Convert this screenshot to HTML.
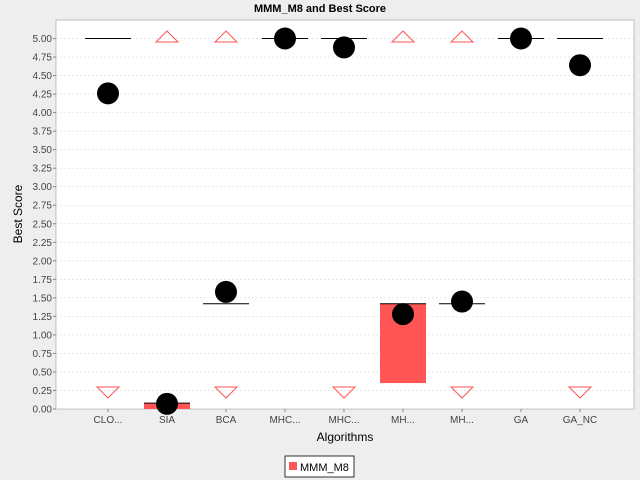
<!DOCTYPE html>
<html><head><meta charset="utf-8"><style>
html,body{margin:0;padding:0;background:#eeeeee;font-family:"Liberation Sans",sans-serif;overflow:hidden;}
svg{display:block;}
svg text{font-family:"Liberation Sans",sans-serif;}
</style></head><body>
<svg id="chart" width="640" height="480" xmlns="http://www.w3.org/2000/svg">
<rect x="0" y="0" width="640" height="480" fill="#eeeeee"/>
<text x="320" y="12" text-anchor="middle" font-size="11" font-weight="bold" fill="#000">MMM_M8 and Best Score</text>
<rect x="56" y="20" width="578" height="389" fill="#ffffff" stroke="#888" stroke-width="0.5"/>
<g id="grid"></g><g id="yaxis"></g><g id="xaxis"></g><g id="marks"></g>
<text transform="translate(22,214) rotate(-90)" text-anchor="middle" font-size="12" fill="#000">Best Score</text>
<text x="345" y="441" text-anchor="middle" font-size="12" fill="#000">Algorithms</text>
<g>
<rect x="285" y="456" width="69" height="21" fill="#fff" stroke="#000" stroke-width="0.8"/>
<rect x="289" y="462" width="8" height="8" fill="#ff5555"/>
<text x="300" y="471" font-size="11" fill="#000">MMM_M8</text>
</g>
</svg>
<script>
const categories=["CLO...","SIA","BCA","MHC...","MHC...","MH...","MH...","GA","GA_NC"];
const q1Values=[5.0,0.0,1.42,5.0,5.0,0.35,1.42,5.0,5.0];
const q3Values=[5.0,0.08,1.42,5.0,5.0,1.42,1.42,5.0,5.0];
const medianValues=[5.0,0.08,1.42,5.0,5.0,1.42,1.42,5.0,5.0];
const meanValues=[4.26,0.07,1.58,5.0,4.88,1.28,1.45,5.0,4.64];
const hasUpArrow=[false,true,true,false,false,true,true,false,false];
const hasDownArrow=[true,false,true,false,true,false,true,false,true];
const yTicks=[0,0.25,0.5,0.75,1,1.25,1.5,1.75,2,2.25,2.5,2.75,3,3.25,3.5,3.75,4,4.25,4.5,4.75,5];
const NS="http://www.w3.org/2000/svg";
const yMin=0,yMax=5.25,plotTop=20,plotBottom=409;
function y(v){return plotBottom-(v-yMin)/(yMax-yMin)*(plotBottom-plotTop);}
function x(i){return 108+i*59;}
function mk(tag,attrs,parent){const e=document.createElementNS(NS,tag);for(const k in attrs)e.setAttribute(k,attrs[k]);parent.appendChild(e);return e;}
const grid=document.getElementById('grid'),ya=document.getElementById('yaxis'),xa=document.getElementById('xaxis'),marks=document.getElementById('marks');
yTicks.forEach(t=>{
 const g=mk('line',{x1:56,x2:634,y1:y(t),y2:y(t),stroke:'#d8d8d8','stroke-width':0.6,'stroke-dasharray':'2,2'},grid);
 
 
 const tm=mk('line',{x1:53,x2:56,y1:y(t),y2:y(t),stroke:'#888'},ya);
 
 
 const tx=mk('text',{x:52,y:y(t)+3.5,'text-anchor':'end','font-size':10,fill:'#444'},ya);
 tx.textContent=t.toFixed(2);
 
 
});
categories.forEach((c,i)=>{
 const cx=x(i);
 const tx=mk('text',{x:cx,y:423,'text-anchor':'middle','font-size':10,fill:'#444'},xa);
 tx.textContent=c;
 
 
 const tm=mk('line',{x1:cx,x2:cx,y1:409,y2:412,stroke:'#888'},xa);
 
 
 const h=y(q1Values[i])-y(q3Values[i]);
 if(h>0.5){
  const b=mk('rect',{x:cx-23,y:y(q3Values[i]),width:46,height:h,fill:'#ff5555'},marks);
  
  
 }
 const m=mk('line',{x1:cx-23,x2:cx+23,y1:y(medianValues[i]),y2:y(medianValues[i]),stroke:'#000','stroke-width':1},marks);
 
 
 if(hasUpArrow[i]){
  const a=mk('polygon',{points:`${cx-11},${42} ${cx+11},${42} ${cx},${31}`,fill:'none',stroke:'#ff5555'},marks);
  
  
 }
 if(hasDownArrow[i]){
  const a=mk('polygon',{points:`${cx-11},${387} ${cx+11},${387} ${cx},${398}`,fill:'none',stroke:'#ff5555'},marks);
  
  
 }
 const ci=mk('circle',{cx:cx,cy:y(meanValues[i]),r:11,fill:'#000'},marks);
 
 
});
</script>
</body></html>
